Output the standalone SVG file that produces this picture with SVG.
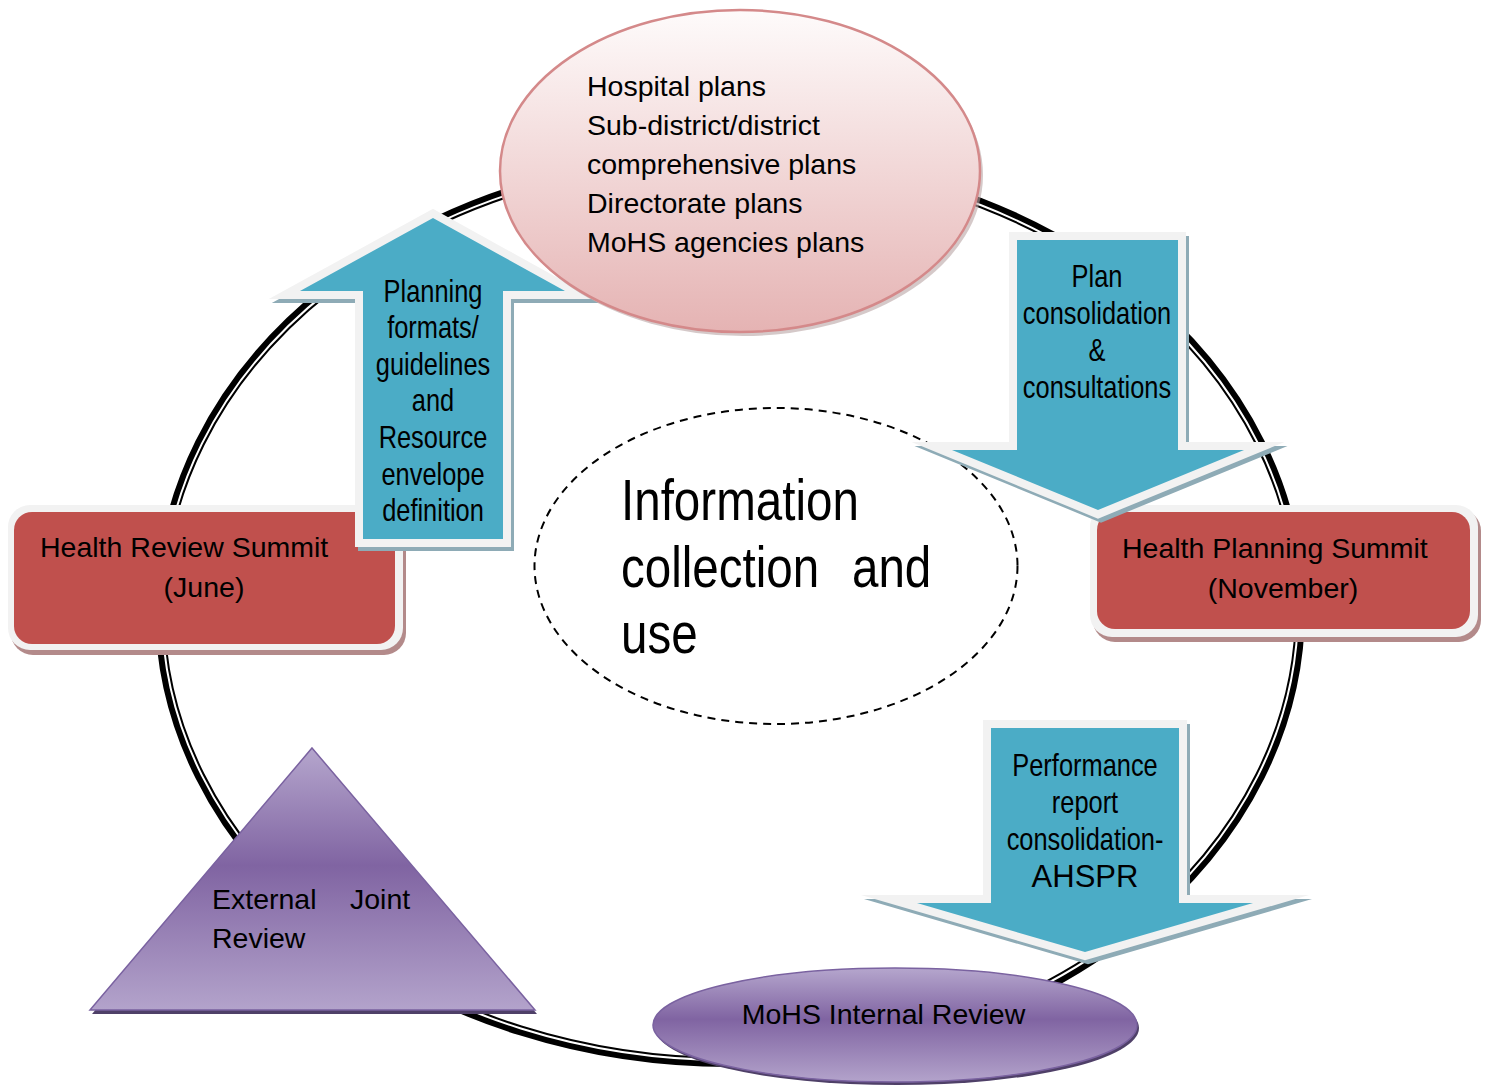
<svg xmlns="http://www.w3.org/2000/svg" width="1488" height="1086" viewBox="0 0 1488 1086">
<defs>
  <linearGradient id="pink" x1="0" y1="0" x2="0" y2="1">
    <stop offset="0" stop-color="#fefbfb"/>
    <stop offset="1" stop-color="#e5b3b3"/>
  </linearGradient>
  <linearGradient id="purple" x1="0" y1="0" x2="0" y2="1">
    <stop offset="0" stop-color="#b5a6cd"/>
    <stop offset="0.45" stop-color="#8064a2"/>
    <stop offset="1" stop-color="#b3a3cb"/>
  </linearGradient>
</defs>
<style>
  .cal{font-family:"Liberation Sans",Arial,sans-serif;font-size:28.5px;fill:#000}
  .nar{font-family:"Liberation Sans",Arial,sans-serif;font-size:31px;fill:#000;text-anchor:middle}
  .big{font-family:"Liberation Sans",Arial,sans-serif;font-size:58px;fill:#000}
  .aBorder{fill:#f2f2f2;stroke:#f2f2f2;stroke-width:16;stroke-linejoin:miter;stroke-miterlimit:10}
  .aShadow{fill:#8eabb6;stroke:#8eabb6;stroke-width:16;stroke-linejoin:miter;stroke-miterlimit:10}
  .aFill{fill:#4bacc6}
  .bOuter{fill:#f2f2f2}
  .bShadow{fill:#b38a8a}
  .bFill{fill:#c0504d}
  .purp{fill:url(#purple);stroke:#7a62a0;stroke-width:1.5}
  .purpShadow{fill:#4f4068}
</style>
<rect x="0" y="0" width="1488" height="1086" fill="#fff"/>

<g id="connectors">
  <ellipse cx="730" cy="609.5" rx="570" ry="452.6" fill="none" stroke="#000" stroke-width="10"/>
  <ellipse cx="730" cy="609.5" rx="568" ry="450.6" fill="none" stroke="#fff" stroke-width="2"/>
</g>

<g id="info-center">
  <ellipse cx="776" cy="566" rx="241.5" ry="158" fill="none" stroke="#000" stroke-width="2" stroke-dasharray="8 6"/>
  <g transform="translate(621 0) scale(0.82 1)">
    <text class="big" x="0" y="520">Information</text>
    <text class="big" y="587"><tspan x="0">collection</tspan><tspan x="281.7">and</tspan></text>
    <text class="big" x="0" y="653">use</text>
  </g>
</g>

<g id="health-review-summit">
  <rect class="bShadow" x="11" y="509" width="395" height="146" rx="22"/>
  <rect class="bOuter" x="8" y="505" width="395" height="145" rx="22"/>
  <rect class="bFill" x="14" y="512" width="381" height="132" rx="18"/>
  <text class="cal" x="40" y="557">Health Review Summit</text>
  <text class="cal" x="204" y="597" text-anchor="middle">(June)</text>
</g>

<g id="arrow-planning-formats">
  <path class="aShadow" transform="translate(3 4)" d="M433,218 L565,291 L503,291 L503,539 L363,539 L363,291 L300,291 Z"/>
  <path class="aBorder" d="M433,218 L565,291 L503,291 L503,539 L363,539 L363,291 L300,291 Z"/>
  <path class="aFill" d="M433,218 L565,291 L503,291 L503,539 L363,539 L363,291 L300,291 Z"/>
  <g transform="translate(433 0) scale(0.82 1)">
    <text class="nar" x="0" y="302">Planning</text>
    <text class="nar" x="0" y="338">formats/</text>
    <text class="nar" x="0" y="375">guidelines</text>
    <text class="nar" x="0" y="411">and</text>
    <text class="nar" x="0" y="448">Resource</text>
    <text class="nar" x="0" y="485">envelope</text>
    <text class="nar" x="0" y="521">definition</text>
  </g>
</g>

<g id="plans-ellipse">
  <ellipse cx="743" cy="175" rx="240" ry="161" fill="#b9a5a5" opacity="0.6"/>
  <ellipse cx="740" cy="171" rx="240" ry="161" fill="url(#pink)" stroke="#d4898a" stroke-width="2.5"/>
  <text class="cal" x="587" y="96">Hospital plans</text>
  <text class="cal" x="587" y="135">Sub-district/district</text>
  <text class="cal" x="587" y="174">comprehensive plans</text>
  <text class="cal" x="587" y="213">Directorate plans</text>
  <text class="cal" x="587" y="252">MoHS agencies plans</text>
</g>

<g id="health-planning-summit">
  <rect class="bShadow" x="1093" y="509" width="388" height="133" rx="22"/>
  <rect class="bOuter" x="1090" y="505" width="388" height="132" rx="22"/>
  <rect class="bFill" x="1097" y="512" width="373" height="117" rx="18"/>
  <text class="cal" x="1122" y="558">Health Planning Summit</text>
  <text class="cal" x="1283" y="598" text-anchor="middle">(November)</text>
</g>

<g id="arrow-plan-consolidation">
  <path class="aShadow" transform="translate(3 4)" d="M1017,240 L1178,240 L1178,450 L1244,450 L1098,510 L952,450 L1017,450 Z"/>
  <path class="aBorder" d="M1017,240 L1178,240 L1178,450 L1244,450 L1098,510 L952,450 L1017,450 Z"/>
  <path class="aFill" d="M1017,240 L1178,240 L1178,450 L1244,450 L1098,510 L952,450 L1017,450 Z"/>
  <g transform="translate(1097 0) scale(0.82 1)">
    <text class="nar" x="0" y="287">Plan</text>
    <text class="nar" x="0" y="324">consolidation</text>
    <text class="nar" x="0" y="361">&amp;</text>
    <text class="nar" x="0" y="398">consultations</text>
  </g>
</g>

<g id="external-joint-review">
  <path class="purpShadow" d="M314,752 L537,1014 L92,1014 Z"/>
  <path class="purp" d="M312,748 L535,1010 L90,1010 Z"/>
  <text class="cal" x="212" y="909">External</text>
  <text class="cal" x="350" y="909">Joint</text>
  <text class="cal" x="212" y="948">Review</text>
</g>

<g id="mohs-internal-review">
  <ellipse cx="897" cy="1028" rx="242" ry="57" class="purpShadow"/>
  <ellipse cx="895" cy="1025" rx="242" ry="57" class="purp"/>
  <text class="cal" x="883.5" y="1024" text-anchor="middle">MoHS Internal Review</text>
</g>

<g id="arrow-performance-report">
  <path class="aShadow" transform="translate(3 4)" d="M991,728 L1179,728 L1179,903 L1253,903 L1085,952 L917,903 L991,903 Z"/>
  <path class="aBorder" d="M991,728 L1179,728 L1179,903 L1253,903 L1085,952 L917,903 L991,903 Z"/>
  <path class="aFill" d="M991,728 L1179,728 L1179,903 L1253,903 L1085,952 L917,903 L991,903 Z"/>
  <g transform="translate(1085 0) scale(0.82 1)">
    <text class="nar" x="0" y="776">Performance</text>
    <text class="nar" x="0" y="813">report</text>
    <text class="nar" x="0" y="850">consolidation-</text>
  </g>
  <text class="nar" x="1085" y="887">AHSPR</text>
</g>
</svg>
